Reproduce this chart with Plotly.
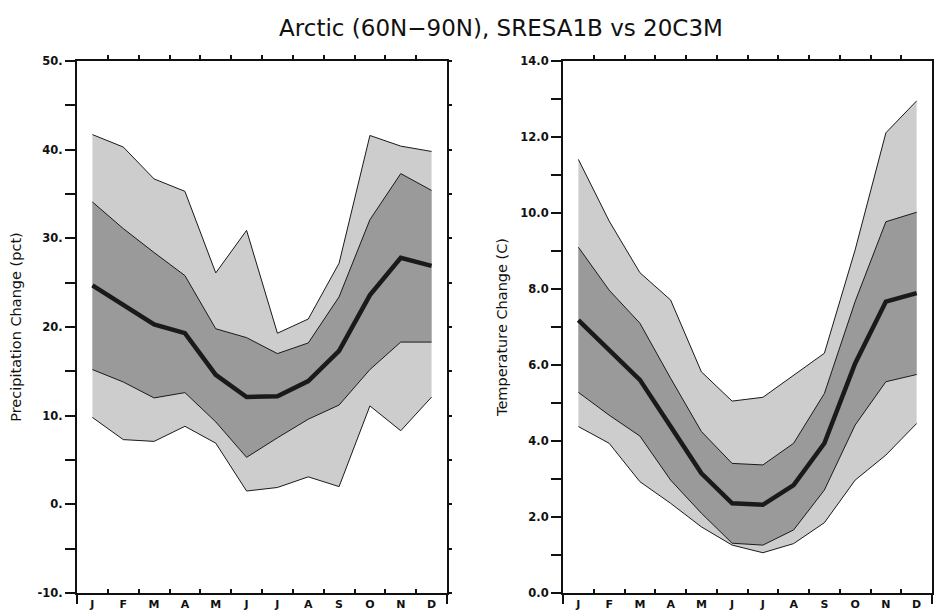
import plotly.graph_objects as go

months = ["J", "F", "M", "A", "M", "J", "J", "A", "S", "O", "N", "D"]
month_idx = list(range(12))

# Precipitation change (pct)
pr_outer_hi = [41.7, 40.3, 36.7, 35.3, 26.1, 30.9, 19.3, 20.9, 27.2, 41.6, 40.4, 39.8]
pr_inner_hi = [34.1, 31.1, 28.4, 25.8, 19.8, 18.8, 17.0, 18.2, 23.4, 32.1, 37.3, 35.4]
pr_mean     = [24.7, 22.5, 20.3, 19.3, 14.6, 12.1, 12.2, 13.9, 17.3, 23.6, 27.8, 26.9]
pr_inner_lo = [15.2, 13.8, 12.0, 12.6, 9.3, 5.3, 7.5, 9.6, 11.2, 15.2, 18.3, 18.3]
pr_outer_lo = [9.8, 7.3, 7.1, 8.8, 6.9, 1.5, 1.9, 3.1, 2.0, 11.1, 8.3, 12.1]

# Temperature change (C)
tas_outer_hi = [11.41, 9.79, 8.43, 7.71, 5.82, 5.05, 5.15, 5.74, 6.31, 9.03, 12.11, 12.95]
tas_inner_hi = [9.10, 7.97, 7.10, 5.65, 4.25, 3.41, 3.37, 3.94, 5.25, 7.67, 9.77, 10.02]
tas_mean     = [7.18, 6.39, 5.61, 4.38, 3.15, 2.36, 2.32, 2.84, 3.94, 6.04, 7.67, 7.89]
tas_inner_lo = [5.28, 4.68, 4.13, 2.97, 2.10, 1.31, 1.26, 1.66, 2.71, 4.42, 5.56, 5.75]
tas_outer_lo = [4.38, 3.94, 2.93, 2.36, 1.74, 1.26, 1.06, 1.30, 1.85, 2.97, 3.63, 4.46]

pr_ticks = [-10, 0, 10, 20, 30, 40, 50]
pr_ticktext = ["-10.", "0.", "10.", "20.", "30.", "40.", "50."]
tas_ticks = [0, 2, 4, 6, 8, 10, 12, 14]
tas_ticktext = ["0.0", "2.0", "4.0", "6.0", "8.0", "10.0", "12.0", "14.0"]

LIGHT = "#cdcdcd"
DARK = "#9a9a9a"
EDGE = "#1a1a1a"

fig = go.Figure()


def add_panel(xa, ya, olo, ohi, ilo, ihi, mean):
    fig.add_trace(go.Scatter(x=month_idx, y=olo, mode="lines", line=dict(color=EDGE, width=1),
                             xaxis=xa, yaxis=ya, showlegend=False, hoverinfo="skip"))
    fig.add_trace(go.Scatter(x=month_idx, y=ohi, mode="lines", line=dict(color=EDGE, width=1),
                             fill="tonexty", fillcolor=LIGHT,
                             xaxis=xa, yaxis=ya, showlegend=False, hoverinfo="skip"))
    fig.add_trace(go.Scatter(x=month_idx, y=ilo, mode="lines", line=dict(color=EDGE, width=1),
                             xaxis=xa, yaxis=ya, showlegend=False, hoverinfo="skip"))
    fig.add_trace(go.Scatter(x=month_idx, y=ihi, mode="lines", line=dict(color=EDGE, width=1),
                             fill="tonexty", fillcolor=DARK,
                             xaxis=xa, yaxis=ya, showlegend=False, hoverinfo="skip"))
    fig.add_trace(go.Scatter(x=month_idx, y=mean, mode="lines", line=dict(color=EDGE, width=4.5),
                             xaxis=xa, yaxis=ya, showlegend=False, hoverinfo="skip"))


add_panel("x", "y", pr_outer_lo, pr_outer_hi, pr_inner_lo, pr_inner_hi, pr_mean)
add_panel("x2", "y2", tas_outer_lo, tas_outer_hi, tas_inner_lo, tas_inner_hi, tas_mean)

W, H = 934, 615
yd = [1 - 593 / H, 1 - 61 / H]
xd1 = [77 / W, 447 / W]
xd2 = [563 / W, 932 / W]

tickfont_y = dict(family="DejaVu Sans", size=11.5, color="#111111", weight="bold")
tickfont_x = dict(family="DejaVu Sans", size=11, color="#111111", weight="bold")
xr = [-0.5, 11.5]


def xaxis_main(domain, anchor):
    return dict(domain=domain, anchor=anchor, range=xr, showgrid=False, zeroline=False,
                automargin=False,
                showline=True, linecolor="#111111", linewidth=2,
                tickmode="array", tickvals=month_idx, ticktext=months,
                ticks="outside", ticklen=0, tickfont=tickfont_x,
                minor=dict(tickmode="array", tickvals=[i + 0.5 for i in range(11)],
                           ticks="inside", ticklen=4, tickwidth=2, tickcolor="#111111"))


def xaxis_top(overlay, anchor):
    return dict(overlaying=overlay, anchor=anchor, side="top", range=xr, showgrid=False,
                automargin=False,
                zeroline=False, showline=True, linecolor="#111111", linewidth=2,
                tickmode="array", tickvals=[i + 0.5 for i in range(11)], ticks="outside",
                ticklen=4, tickwidth=1.5, tickcolor="#111111", showticklabels=False)


def xaxis_ends(overlay, anchor):
    return dict(overlaying=overlay, anchor=anchor, side="bottom", range=xr, showgrid=False,
                automargin=False,
                zeroline=False, showline=False, tickmode="array", tickvals=[-0.5, 11.5],
                ticks="outside", ticklen=10, tickwidth=2, tickcolor="#111111",
                showticklabels=False)


def yaxis_main(anchor, rng, tv, tt, minor_dtick, title, standoff):
    return dict(domain=yd, anchor=anchor, range=rng, showgrid=False, zeroline=False,
                automargin=False,
                showline=True, linecolor="#111111", linewidth=2,
                tickmode="array", tickvals=tv, ticktext=tt, ticks="outside", ticklen=10,
                tickwidth=2, tickcolor="#111111", tickfont=tickfont_y,
                minor=dict(tickmode="linear", tick0=rng[0], dtick=minor_dtick, ticks="outside",
                           ticklen=10, tickwidth=2, tickcolor="#111111"),
                title=dict(text=title, font=dict(family="DejaVu Sans", size=14.5, color="#111111"),
                           standoff=standoff))


def yaxis_right(overlay, anchor, rng, dt):
    return dict(overlaying=overlay, anchor=anchor, side="right", range=rng, showgrid=False,
                automargin=False,
                zeroline=False, showline=True, linecolor="#111111", linewidth=2,
                tickmode="linear", tick0=rng[0], dtick=dt, ticks="outside", ticklen=3,
                tickwidth=1.5, tickcolor="#111111", showticklabels=False)


fig.update_layout(
    template="none",
    width=W, height=H, margin=dict(l=0, r=0, t=0, b=0, autoexpand=False),
    paper_bgcolor="white", plot_bgcolor="white", showlegend=False,
    title=dict(text="Arctic (60N\u221290N), SRESA1B vs 20C3M", x=501 / W, xanchor="center",
               y=1 - 28 / H, yanchor="middle", automargin=False,
               font=dict(family="DejaVu Sans", size=23, color="#111111")),
    xaxis=xaxis_main(xd1, "y"),
    xaxis2=xaxis_main(xd2, "y2"),
    xaxis3=xaxis_top("x", "y"),
    xaxis4=xaxis_top("x2", "y2"),
    xaxis5=xaxis_ends("x", "y"),
    xaxis6=xaxis_ends("x2", "y2"),
    yaxis=yaxis_main("x", [-10, 50], pr_ticks, pr_ticktext, 5, "Precipitation Change (pct)", 12),
    yaxis2=yaxis_main("x2", [0, 14], tas_ticks, tas_ticktext, 1, "Temperature Change (C)", 9),
    yaxis3=yaxis_right("y", "x", [-10, 50], 5),
    yaxis4=yaxis_right("y2", "x2", [0, 14], 1),
)

# empty traces so the overlay axes render
fig.add_trace(go.Scatter(x=[None], y=[None], xaxis="x3", yaxis="y3", showlegend=False, hoverinfo="skip"))
fig.add_trace(go.Scatter(x=[None], y=[None], xaxis="x4", yaxis="y4", showlegend=False, hoverinfo="skip"))
fig.add_trace(go.Scatter(x=[None], y=[None], xaxis="x5", yaxis="y", showlegend=False, hoverinfo="skip"))
fig.add_trace(go.Scatter(x=[None], y=[None], xaxis="x6", yaxis="y2", showlegend=False, hoverinfo="skip"))

fig.write_html(
    "out.html",
    config={"displayModeBar": False},
    post_script="document.body.style.margin='0';document.body.style.overflow='hidden';",
)
